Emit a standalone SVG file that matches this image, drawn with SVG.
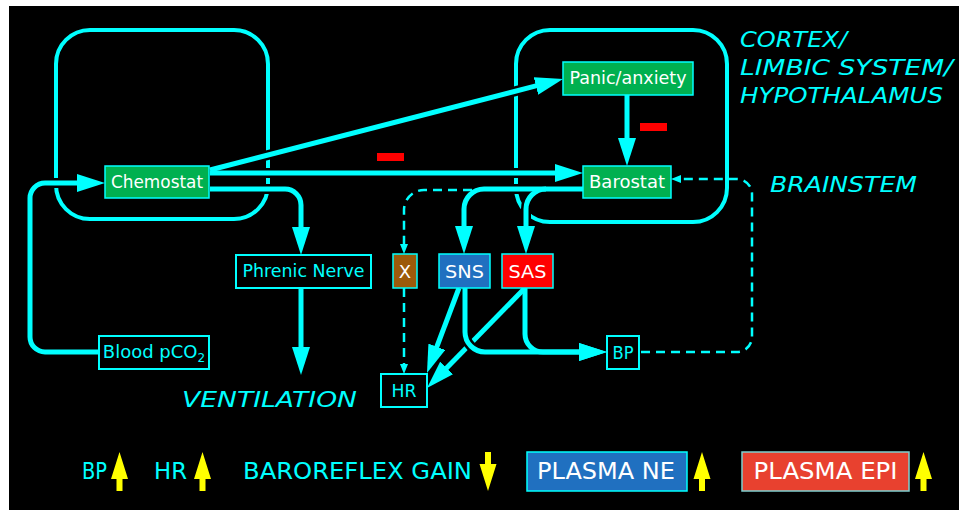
<svg xmlns="http://www.w3.org/2000/svg" width="959" height="510" viewBox="0 0 959 510">
  <defs>
    <style>
      .frame{fill:none;stroke:#00FFFF;stroke-width:4}
      .halo{fill:none;stroke:#000;stroke-width:10}
      .wire{fill:none;stroke:#00FFFF;stroke-width:5}
      .dash{fill:none;stroke:#00FFFF;stroke-width:2.5;stroke-dasharray:9 6}
      .box{stroke:#00FFFF;stroke-width:1.5}
      .obox{fill:#000;stroke:#00FFFF;stroke-width:2}
      .t{font-family:"DejaVu Sans","Liberation Sans",sans-serif;font-size:18px;text-anchor:middle}
      .w{fill:#FFFFFF}
      .c{fill:#00FFFF}
      .big{font-family:"DejaVu Sans","Liberation Sans",sans-serif;font-size:22px}
      .leg{font-family:"DejaVu Sans","Liberation Sans",sans-serif;font-size:23px}
      .it{font-style:italic}
      .minus{fill:#FF0000}
    </style>
    <marker id="ah" markerUnits="userSpaceOnUse" viewBox="0 0 28 18" markerWidth="28" markerHeight="18" refX="1" refY="9" orient="auto">
      <path d="M0,0 L28,9 L0,18 z" fill="#00FFFF"/>
    </marker>
    <marker id="as" markerUnits="userSpaceOnUse" viewBox="0 0 10 8" markerWidth="10" markerHeight="8" refX="1" refY="4" orient="auto">
      <path d="M0,0 L10,4 L0,8 z" fill="#00FFFF"/>
    </marker>
    <path id="up" d="M0,0 L8.5,27 L3,27 L3,39 L-3,39 L-3,27 L-8.5,27 z" fill="#FFFF00"/>
  </defs>

  <!-- page -->
  <rect x="0" y="0" width="959" height="510" fill="#FFFFFF"/>
  <rect x="9" y="6" width="950" height="504" fill="#000000"/>

  <!-- brain regions -->
  <g id="regions">
    <rect class="frame" x="56" y="30" width="212" height="189" rx="34"/>
    <rect class="frame" x="516" y="30" width="211" height="192" rx="34"/>
    <text class="big c it" x="740" y="47" textLength="107" lengthAdjust="spacingAndGlyphs">CORTEX/</text>
    <text class="big c it" x="740" y="75" textLength="213" lengthAdjust="spacingAndGlyphs">LIMBIC SYSTEM/</text>
    <text class="big c it" x="740" y="103" textLength="203" lengthAdjust="spacingAndGlyphs">HYPOTHALAMUS</text>
    <text class="big c it" x="770" y="192" textLength="147" lengthAdjust="spacingAndGlyphs">BRAINSTEM</text>
  </g>

  <g id="connectors">
    <!-- black gaps where wires cross the region outlines -->
    <path class="halo" d="M99,352 H45 A15,15 0 0 1 30,337 V198 A15,15 0 0 1 45,183 H78"/>
    <path class="halo" d="M210,170 L536.9,85.7"/>
    <path class="halo" d="M210,173 H556"/>
    <path class="halo" d="M210,189 H285 A16,16 0 0 1 301,205 V228"/>
    <path class="halo" d="M583,189 H484 A20,20 0 0 0 464,209 V227"/>
    <path class="halo" d="M546,189 A20,20 0 0 0 526,209 V227"/>

    <!-- solid pathways -->
    <path class="wire" d="M99,352 H45 A15,15 0 0 1 30,337 V198 A15,15 0 0 1 45,183 H78" marker-end="url(#ah)"/>
    <path class="wire" d="M210,170 L536.9,85.7" marker-end="url(#ah)"/>
    <path class="wire" d="M210,173 H556" marker-end="url(#ah)"/>
    <path class="wire" d="M210,189 H285 A16,16 0 0 1 301,205 V228" marker-end="url(#ah)"/>
    <path class="wire" d="M301,288 V348" marker-end="url(#ah)"/>
    <path class="wire" d="M627,95 V139" marker-end="url(#ah)"/>
    <path class="wire" d="M583,189 H484 A20,20 0 0 0 464,209 V227" marker-end="url(#ah)"/>
    <path class="wire" d="M546,189 A20,20 0 0 0 526,209 V227" marker-end="url(#ah)"/>
    <path class="wire" d="M459,288 L436.5,347.7" marker-end="url(#ah)"/>
    <path class="wire" d="M525,288 L445.9,368.7" marker-end="url(#ah)"/>
    <path class="wire" d="M525,288 V334 A18,18 0 0 0 543,352 H580" marker-end="url(#ah)"/>
    <path class="halo" d="M465,322 V332 A20,20 0 0 0 485,352 H496"/>
    <path class="wire" d="M465,288 V332 A20,20 0 0 0 485,352 H580" marker-end="url(#ah)"/>

    <!-- dashed pathways -->
    <path class="dash" d="M472,190 H424 A20,20 0 0 0 404,210 V245" marker-end="url(#as)"/>
    <path class="dash" d="M404,288 V365" marker-end="url(#as)"/>
    <path class="dash" d="M641,352 H737 A15,15 0 0 0 752,337 V194 A15,15 0 0 0 737,179 H680" marker-end="url(#as)"/>

    <!-- inhibitory marks -->
    <rect class="minus" x="377" y="153" width="27" height="8"/>
    <rect class="minus" x="640" y="123" width="27" height="8"/>
  </g>

  <g id="chemostat">
    <rect class="box" x="105" y="166" width="104" height="32" fill="#00B050"/>
    <text class="t w" x="157" y="188" textLength="92" lengthAdjust="spacingAndGlyphs">Chemostat</text>
  </g>
  <g id="panic">
    <rect class="box" x="563" y="62" width="130" height="33" fill="#00B050"/>
    <text class="t w" x="628" y="84" textLength="117" lengthAdjust="spacingAndGlyphs">Panic/anxiety</text>
  </g>
  <g id="barostat">
    <rect class="box" x="583" y="166" width="88" height="32" fill="#00B050"/>
    <text class="t w" x="627" y="188" textLength="76" lengthAdjust="spacingAndGlyphs">Barostat</text>
  </g>
  <g id="phrenic">
    <rect class="obox" x="236" y="255" width="135" height="33"/>
    <text class="t c" x="303.5" y="277" textLength="122" lengthAdjust="spacingAndGlyphs">Phrenic Nerve</text>
  </g>
  <g id="blood-pco2">
    <rect class="obox" x="99" y="336" width="110" height="33"/>
    <text class="t c" x="154" y="358">Blood pCO<tspan dy="4" font-size="12">2</tspan></text>
  </g>
  <g id="vagal">
    <rect class="box" x="393" y="254" width="24" height="34" fill="#9C5A0A"/>
    <text class="t w" x="405" y="278">X</text>
  </g>
  <g id="sns">
    <rect class="box" x="439" y="254" width="51" height="34" fill="#2070C0"/>
    <text class="t w" x="464.5" y="278" textLength="39" lengthAdjust="spacingAndGlyphs">SNS</text>
  </g>
  <g id="sas">
    <rect class="box" x="502" y="254" width="51" height="34" fill="#FF0000"/>
    <text class="t w" x="527.5" y="278" textLength="38" lengthAdjust="spacingAndGlyphs">SAS</text>
  </g>
  <g id="hr">
    <rect class="obox" x="381" y="374" width="46" height="33"/>
    <text class="t c" x="404" y="397" textLength="25" lengthAdjust="spacingAndGlyphs">HR</text>
  </g>
  <g id="bp">
    <rect class="obox" x="607" y="336" width="32" height="33"/>
    <text class="t c" x="623" y="359" textLength="21" lengthAdjust="spacingAndGlyphs">BP</text>
  </g>
  <g id="ventilation">
    <text class="big c it" x="182" y="407" textLength="175" lengthAdjust="spacingAndGlyphs">VENTILATION</text>
  </g>

  <!-- summary row -->
  <g id="legend">
    <text class="leg c" x="82" y="479" textLength="25" lengthAdjust="spacingAndGlyphs">BP</text>
    <use href="#up" transform="translate(119.5,452)"/>
    <text class="leg c" x="154" y="479" textLength="33" lengthAdjust="spacingAndGlyphs">HR</text>
    <use href="#up" transform="translate(202.5,452)"/>
    <text class="leg c" x="243" y="479" textLength="229" lengthAdjust="spacingAndGlyphs">BAROREFLEX GAIN</text>
    <use href="#up" transform="translate(488,491) rotate(180)"/>
    <rect class="box" x="527" y="452" width="160" height="39" fill="#2070C0"/>
    <text class="leg w" x="606" y="479" text-anchor="middle" textLength="138" lengthAdjust="spacingAndGlyphs">PLASMA NE</text>
    <use href="#up" transform="translate(702,452)"/>
    <rect x="742" y="452" width="167" height="39" fill="#E8412F" stroke="#7FCFCF" stroke-width="1.5"/>
    <text class="leg w" x="825.5" y="479" text-anchor="middle" textLength="144" lengthAdjust="spacingAndGlyphs">PLASMA EPI</text>
    <use href="#up" transform="translate(923.5,452)"/>
  </g>
</svg>
